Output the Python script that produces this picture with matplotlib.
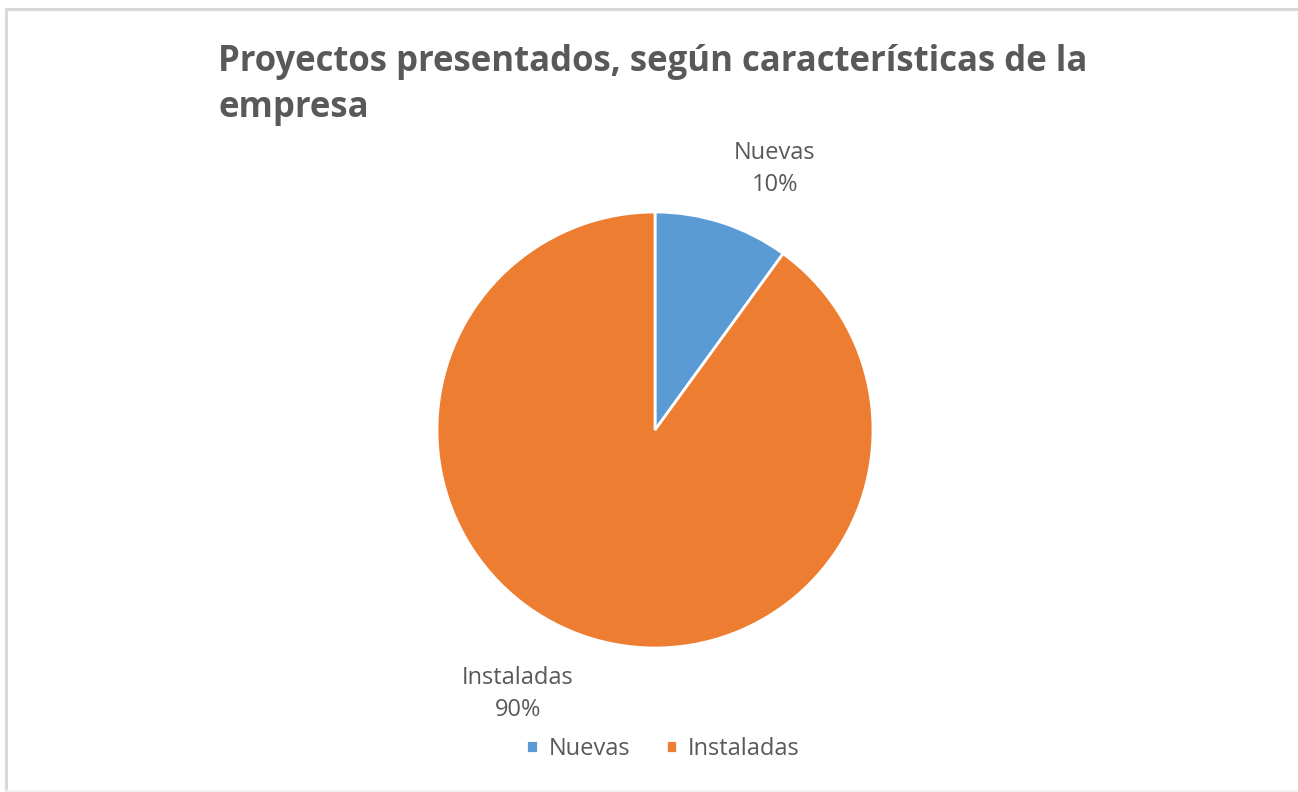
import matplotlib.pyplot as plt
from matplotlib.lines import Line2D

labels = ["Nuevas", "Instaladas"]
values = [10, 90]
colors = ["#5b9bd5", "#ed7d31"]
title = "Proyectos presentados, según características de la\nempresa"

plt.rcParams['font.family'] = ['Open Sans', 'DejaVu Sans']
gray = "#595959"

fig = plt.figure(figsize=(12.98, 7.92), dpi=100)

# borde del gráfico (solo se ven el lado izquierdo y el superior)
fig.lines.append(Line2D([6 / 1298, 6 / 1298, 1297 / 1298], [0, 1 - 9 / 792, 1 - 9 / 792],
                        transform=fig.transFigure, color="#d9d9d9", linewidth=2.2))
fig.lines.append(Line2D([6 / 1298, 1], [1 / 792, 1 / 792],
                        transform=fig.transFigure, color="#f0f0f0", linewidth=1.2))

ax = fig.add_axes([437 / 1298, (792 - 648) / 792, 436 / 1298, 436 / 792])
wedges, _ = ax.pie(values, colors=colors, startangle=90, counterclock=False,
                   wedgeprops=dict(edgecolor="white", linewidth=2))
ax.set_xlim(-1, 1)
ax.set_ylim(-1, 1)
ax.set_aspect("equal")

# etiquetas de datos fuera del pastel
label_pos = [(0.55, 1.197), (-0.63, -1.21)]
total = sum(values)
for (x, y), name, v in zip(label_pos, labels, values):
    ax.text(x, y, f"{name}\n{v / total:.0%}", ha="center", va="center",
            fontsize=17, color=gray, linespacing=1.45, clip_on=False)

fig.text(218 / 1298, 1 - 44 / 792, title, ha="left", va="top",
         fontsize=25, fontweight="bold", color=gray, linespacing=1.37)

leg = fig.legend(wedges, labels, loc="center", bbox_to_anchor=(663 / 1298, 1 - 749 / 792),
                 ncol=2, frameon=False, fontsize=17, handlelength=0.5,
                 handleheight=0.5, handletextpad=0.45, columnspacing=1.5)
for t in leg.get_texts():
    t.set_color(gray)

plt.savefig("out.png", dpi=100)
